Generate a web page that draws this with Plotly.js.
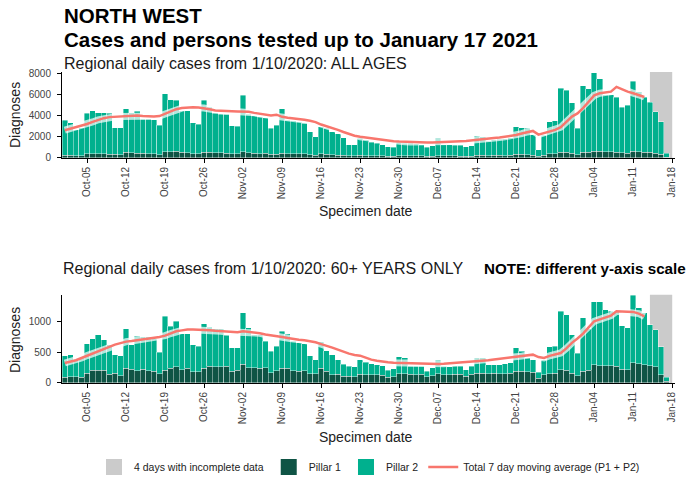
<!DOCTYPE html>
<html>
<head>
<meta charset="utf-8">
<script src="https://cdn.plot.ly/plotly-3.0.1.min.js"></script>
<style>html,body{margin:0;padding:0;background:#fff;}#chart{width:694px;height:485px;}</style>
</head>
<body>
<div id="chart"></div>
<script>
// ---- Categories: consecutive specimen dates 2020-10-01 .. 2021-01-17 ----
const dates = [];
for (let i = 0; i < 109; i++) {
  const d = new Date(Date.UTC(2020, 9, 1 + i));
  dates.push(d.toISOString().slice(0, 10));
}
const maDates = dates.slice(0, 105); // moving average shown up to 2021-01-13

// ---- ALL AGES ----
const allPillar1 = [
  250,240,230,220,380,420,400,420,350,330,300,520,480,440,430,420,380,300,580,600,620,520,500,420,380,550,560,500,480,470,380,
  400,600,480,460,420,430,330,360,450,400,390,380,380,300,280,400,360,300,280,250,200,200,250,230,220,210,200,170,160,230,
  210,200,200,190,150,170,230,200,190,190,180,160,180,260,250,230,240,240,230,250,330,330,320,280,150,280,380,420,530,520,450,
  300,520,550,650,630,600,580,560,480,470,620,600,560,520,450,330,50
];
const allPillar2 = [
  3290,3060,2420,2630,3820,4030,3850,3830,3850,2520,2550,4130,3770,3960,3220,3230,3220,2800,5470,4900,4830,3930,3950,2880,2820,4900,4240,3700,3620,3630,2670,
  2600,5300,3620,3540,3480,3370,2470,2740,4200,3150,3110,3020,2870,2150,1720,2550,2440,2150,2020,1650,1050,1050,1600,1470,1280,1190,1050,880,840,1270,
  1190,1200,1130,1060,850,980,1620,1050,1060,1010,1020,890,970,1840,1750,1370,1460,1510,1570,1650,2620,2520,2480,1920,650,1870,3020,3080,6020,5880,4750,
  2500,6280,5950,7400,6820,5350,5370,5140,4320,4480,6630,5650,5140,4730,3900,3070,400
];
const allMA7 = [
  2620,2750,2900,3050,3200,3400,3600,3750,3850,3880,3900,3900,3950,4000,3950,3900,3920,3950,4150,4350,4600,4700,4770,4770,4750,4700,4600,4480,4430,4400,4400,
  4380,4400,4350,4250,4150,4080,4000,4080,3880,3800,3750,3680,3600,3500,3380,3150,3000,2850,2650,2450,2250,2100,2000,1920,1850,1760,1680,1620,1580,1545,
  1520,1500,1490,1480,1470,1470,1480,1500,1520,1550,1580,1610,1650,1700,1760,1820,1880,1940,2000,2060,2160,2300,2450,2550,2200,2350,2550,2650,2900,3400,3900,
  4200,4700,5300,5900,6100,6150,6250,6700,6450,6250,6100,5950,5750
];

// ---- 60+ YEARS ONLY ----
const oldPillar1 = [
  95,100,105,90,160,205,210,210,140,160,115,240,220,200,225,200,190,150,210,235,260,215,235,185,180,240,270,265,265,270,190,
  210,300,250,250,240,250,165,200,240,240,195,190,195,150,150,240,190,135,140,110,110,100,140,135,130,130,125,90,100,150,
  150,140,135,140,100,120,150,130,130,140,140,110,140,160,160,150,155,150,150,160,190,190,185,170,80,135,150,160,215,205,160,
  120,190,205,295,280,280,280,270,225,215,325,315,295,280,260,135,27
];
const oldPillar2 = [
  348,354,273,315,472,508,574,493,481,300,328,641,401,560,525,550,530,347,871,684,740,585,565,436,415,720,633,615,615,502,377,
  357,834,641,533,543,425,348,394,597,554,480,458,437,293,228,424,334,324,238,190,160,160,238,200,183,167,156,115,127,271,
  255,130,135,130,90,123,228,140,130,130,130,106,130,245,245,147,142,147,163,164,378,323,220,208,93,243,434,434,947,903,624,
  360,864,671,1018,1033,909,882,892,705,677,1095,901,840,666,605,449,70
];
const oldMA7 = [
  324,345,368,405,443,478,513,555,595,621,645,670,680,692,700,713,730,746,767,800,838,852,865,865,865,865,855,845,838,830,825,
  822,838,830,822,805,784,775,767,746,730,713,702,692,676,660,630,605,572,540,505,475,455,443,410,378,360,345,335,328,324,
  320,316,312,310,308,308,308,312,318,325,333,340,345,351,360,370,380,390,400,410,421,435,448,459,420,405,440,459,486,560,650,
  720,800,900,1000,1030,1054,1090,1162,1155,1151,1151,1124,1080
];

const incompleteStart = '2021-01-14';
const incompleteEnd = '2021-01-18';

// ---- styles ----
const C_P1 = '#0f5445';
const C_P2 = '#00b08e';
const C_LINE = '#f8766d';
const C_GREY = '#cbcbcb';
const FONT = 'Liberation Sans, Arial, sans-serif';

function panel(xa, ya, p1, p2, ma) {
  return [
    {type:'bar', x:dates, y:p1, xaxis:xa, yaxis:ya, name:'Pillar 1', showlegend:false,
     marker:{color:C_P1, line:{color:'rgba(255,255,255,0.8)', width:0.5}}, hoverinfo:'x+y'},
    {type:'bar', x:dates, y:p2, xaxis:xa, yaxis:ya, name:'Pillar 2', showlegend:false,
     marker:{color:C_P2, line:{color:'rgba(255,255,255,0.8)', width:0.5}}, hoverinfo:'x+y'},
    {type:'scatter', mode:'lines', x:maDates, y:ma, xaxis:xa, yaxis:ya, showlegend:false, hoverinfo:'skip',
     line:{color:'rgba(255,255,255,0.7)', width:7}},
    {type:'scatter', mode:'lines', x:maDates, y:ma, xaxis:xa, yaxis:ya, showlegend:false,
     name:'Total 7 day moving average (P1 + P2)', line:{color:C_LINE, width:2.5}}
  ];
}

const legendTraces = [
  {type:'scatter', mode:'markers', x:[null], y:[null], name:'4 days with incomplete data', legendrank:1,
   marker:{symbol:'square', size:16, color:C_GREY}},
  {type:'scatter', mode:'markers', x:[null], y:[null], name:'Pillar 1', legendrank:2,
   marker:{symbol:'square', size:16, color:C_P1}},
  {type:'scatter', mode:'markers', x:[null], y:[null], name:'Pillar 2', legendrank:3,
   marker:{symbol:'square', size:16, color:C_P2}},
  {type:'scatter', mode:'lines', x:[null], y:[null], name:'Total 7 day moving average (P1 + P2)', legendrank:4,
   line:{color:C_LINE, width:2.5}}
];

const data = [].concat(
  panel('x', 'y', allPillar1, allPillar2, allMA7),
  panel('x2', 'y2', oldPillar1, oldPillar2, oldMA7),
  legendTraces
);

const xCommon = {
  type:'date', range:['2020-09-30 12:00', '2021-01-18 12:00'],
  tick0:'2020-10-05', dtick:7*86400000, tickformat:'%b-%d', tickangle:-90,
  ticks:'outside', ticklen:4, tickcolor:'#000', tickwidth:1,
  showline:true, linecolor:'#000', linewidth:1, showgrid:false, zeroline:false,
  tickfont:{family:FONT, size:10, color:'#444'}
};
const yCommon = {
  ticks:'outside', ticklen:4, tickcolor:'#000', tickwidth:1,
  showline:true, linecolor:'#000', linewidth:1, showgrid:false, zeroline:false,
  tickfont:{family:FONT, size:10, color:'#444'}, ticklabelstandoff:4
};

const py = p => (383 - p) / 311;   // pixel row -> paper y
const px = p => (p - 62) / 613;    // pixel column -> paper x

const layout = {
  width:694, height:485,
  margin:{l:62, r:19, t:72, b:102, pad:0, autoexpand:false},
  paper_bgcolor:'#fff', plot_bgcolor:'#fff',
  barmode:'stack', bargap:0,
  font:{family:FONT, color:'#222'},
  hovermode:'closest',
  xaxis:Object.assign({}, xCommon, {anchor:'y', domain:[0,1]}),
  yaxis:Object.assign({}, yCommon, {anchor:'x', domain:[0.7235,1], range:[0,8100], tickvals:[0,2000,4000,6000,8000]}),
  xaxis2:Object.assign({}, xCommon, {anchor:'y2', domain:[0,1]}),
  yaxis2:Object.assign({}, yCommon, {anchor:'x2', domain:[0,0.284], range:[0,1430], tickvals:[0,500,1000]}),
  showlegend:true,
  legend:{orientation:'h', xref:'container', yref:'container', x:94/694, xanchor:'left', y:(485-467)/485, yanchor:'middle',
          font:{family:FONT, size:10.5, color:'#222'}, bgcolor:'rgba(0,0,0,0)', itemwidth:30, traceorder:'normal'},
  shapes:[
    {type:'rect', layer:'below', xref:'x', yref:'y domain', x0:incompleteStart, x1:incompleteEnd, y0:0, y1:1,
     fillcolor:C_GREY, line:{width:0}},
    {type:'rect', layer:'below', xref:'x2', yref:'y2 domain', x0:incompleteStart, x1:incompleteEnd, y0:0, y1:1,
     fillcolor:C_GREY, line:{width:0}}
  ],
  annotations:[
    {text:'<b>NORTH WEST</b>', xref:'paper', yref:'paper', x:px(62), y:py(15.5), xanchor:'left', yanchor:'middle',
     showarrow:false, font:{family:FONT, size:20.5, color:'#000'}},
    {text:'<b>Cases and persons tested up to January 17 2021</b>', xref:'paper', yref:'paper', x:px(62), y:py(40),
     xanchor:'left', yanchor:'middle', showarrow:false, font:{family:FONT, size:20.5, color:'#000'}},
    {text:'Regional daily cases from 1/10/2020: ALL AGES', xref:'paper', yref:'paper', x:px(62), y:py(63),
     xanchor:'left', yanchor:'middle', showarrow:false, font:{family:FONT, size:16, color:'#1a1a1a'}},
    {text:'Regional daily cases from 1/10/2020: 60+ YEARS ONLY', xref:'paper', yref:'paper', x:px(61), y:py(268),
     xanchor:'left', yanchor:'middle', showarrow:false, font:{family:FONT, size:16, color:'#1a1a1a'}},
    {text:'<b>NOTE: different y-axis scale</b>', xref:'paper', yref:'paper', x:px(482), y:py(268),
     xanchor:'left', yanchor:'middle', showarrow:false, font:{family:FONT, size:15.2, color:'#000'}},
    {text:'Specimen date', xref:'paper', yref:'paper', x:px(366), y:py(211), xanchor:'center', yanchor:'middle',
     showarrow:false, font:{family:FONT, size:14, color:'#222'}},
    {text:'Specimen date', xref:'paper', yref:'paper', x:px(366), y:py(437), xanchor:'center', yanchor:'middle',
     showarrow:false, font:{family:FONT, size:14, color:'#222'}},
    {text:'Diagnoses', xref:'paper', yref:'paper', x:px(15), y:py(115), xanchor:'center', yanchor:'middle',
     textangle:-90, showarrow:false, font:{family:FONT, size:14, color:'#222'}},
    {text:'Diagnoses', xref:'paper', yref:'paper', x:px(15), y:py(340), xanchor:'center', yanchor:'middle',
     textangle:-90, showarrow:false, font:{family:FONT, size:14, color:'#222'}}
  ]
};

Plotly.newPlot('chart', data, layout, {displayModeBar:false, staticPlot:true});
</script>
</body>
</html>
